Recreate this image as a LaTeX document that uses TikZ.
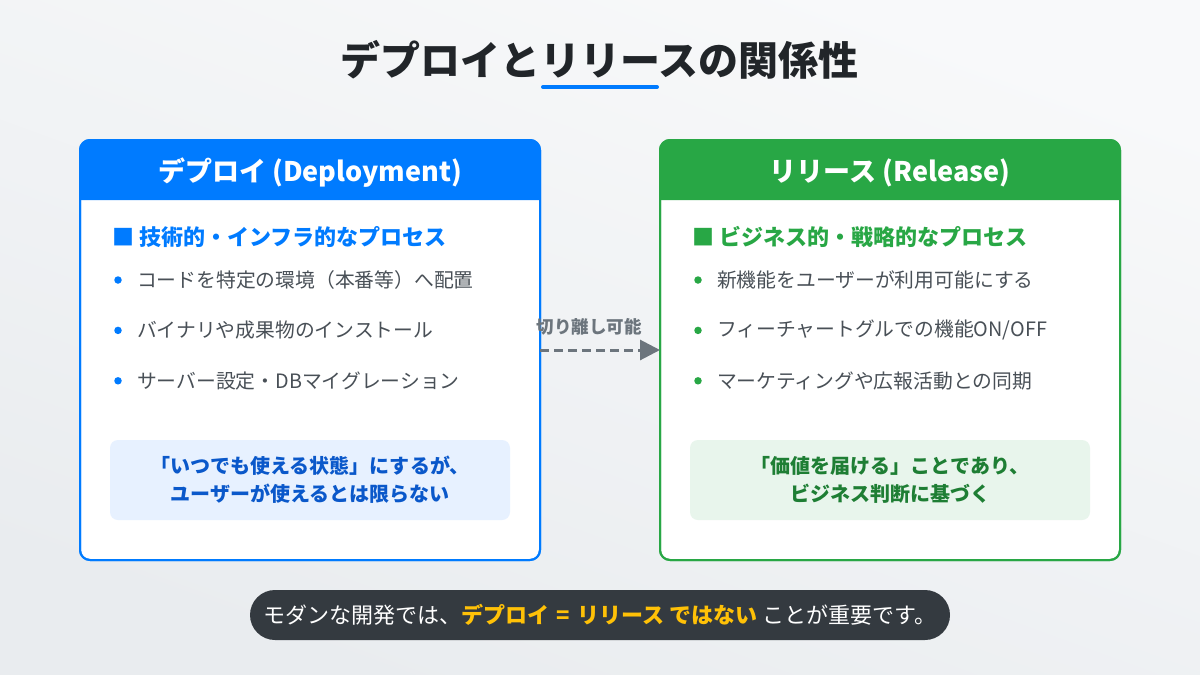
\documentclass[tikz,border=0pt]{standalone}
\usepackage{fontspec}
\setmainfont{Noto Sans CJK JP}
\usepackage{tikz}
\usetikzlibrary{positioning, arrows.meta, calc}
\definecolor{bgTop}{HTML}{f8f9fa}
\definecolor{bgBot}{HTML}{e9ecef}
\definecolor{ink}{HTML}{212529}
\definecolor{bodyTxt}{HTML}{495057}
\definecolor{depBlue}{HTML}{007bff}
\definecolor{depNote}{HTML}{e7f1ff}
\definecolor{depNoteT}{HTML}{0a58ca}
\definecolor{relGreen}{HTML}{28a745}
\definecolor{relNote}{HTML}{e8f5ec}
\definecolor{relNoteT}{HTML}{1e7e34}
\definecolor{linkGray}{HTML}{6c757d}
\definecolor{pillDark}{HTML}{343a40}
\definecolor{hiYellow}{HTML}{ffc107}

\begin{document}
\begin{tikzpicture}[x=1pt,y=-1pt,card/.style={draw, fill=white, line width=2pt, rounded corners=10pt, minimum width=460pt, minimum height=420pt, outer sep=0pt},hdr/.style={font=\fontsize{27}{30}\selectfont\bfseries, text=white},subttl/.style={font=\fontsize{22}{24}\selectfont\bfseries, anchor=west, inner sep=0pt},item/.style={font=\fontsize{19.8}{22}\selectfont, text=bodyTxt, anchor=west, inner sep=0pt},dot/.style={circle, inner sep=0pt, minimum size=7.5pt},note/.style={rounded corners=8pt, minimum width=400pt, minimum height=80pt, align=center, font=\fontsize{20}{28}\selectfont\bfseries},link/.style={draw=linkGray, line width=3pt, dash pattern=on 9pt off 5pt, -{Triangle[length=20pt, width=20pt, sep=0pt]}},lbl/.style={font=\fontsize{17.5}{19}\selectfont\bfseries, text=linkGray}]
\useasboundingbox (0,0) rectangle (1200,675);
\shade[top color=bgTop, bottom color=bgBot, shading angle=-20] (0,0) rectangle (1200,675);
\node[font=\fontsize{40}{44}\selectfont\bfseries, text=ink] (ttl) at (599,60) {デプロイとリリースの関係性};
\draw[depBlue, line width=4pt, line cap=round] (543,87) -- (657,87);
\node[card, draw=depBlue] (dep) at (310,350) {};
\node[card, draw=relGreen] (rel) at (890,350) {};
\fill[depBlue] ($(dep.north west)+(0,60)$) [rounded corners=10pt] -- (dep.north west) -- (dep.north east) [sharp corners] -- ($(dep.north east)+(0,60)$) -- cycle;
\fill[relGreen] ($(rel.north west)+(0,60)$) [rounded corners=10pt] -- (rel.north west) -- (rel.north east) [sharp corners] -- ($(rel.north east)+(0,60)$) -- cycle;
\draw[depBlue, line width=2pt, rounded corners=10pt] (dep.north west) rectangle (dep.south east);
\draw[relGreen, line width=2pt, rounded corners=10pt] (rel.north west) rectangle (rel.south east);
\node[hdr] (depH) at ($(dep.north)+(0,33)$) {デプロイ (Deployment)};
\node[hdr] (relH) at ($(rel.north)+(0,33)$) {リリース (Release)};
\node[subttl, text=depBlue] (depS) at ($(dep.north west)+(32,97)$) {■ 技術的・インフラ的なプロセス};
\node[subttl, text=relGreen] (relS) at ($(rel.north west)+(32,97)$) {■ ビジネス的・戦略的なプロセス};
\node[dot, fill=depBlue] (dd1) at (118,280) {};
\node[item, right=15pt of dd1] (d1) {コードを特定の環境（本番等）へ配置};
\node[dot, fill=depBlue, below=42.5pt of dd1] (dd2) {};
\node[item, right=15pt of dd2] (d2) {バイナリや成果物のインストール};
\node[dot, fill=depBlue, below=42.5pt of dd2] (dd3) {};
\node[item, right=15pt of dd3] (d3) {サーバー設定・DBマイグレーション};
\node[dot, fill=relGreen] (rd1) at (698,280) {};
\node[item, right=15pt of rd1] (r1) {新機能をユーザーが利用可能にする};
\node[dot, fill=relGreen, below=42.5pt of rd1] (rd2) {};
\node[item, right=15pt of rd2] (r2) {フィーチャートグルでの機能ON/OFF};
\node[dot, fill=relGreen, below=42.5pt of rd2] (rd3) {};
\node[item, right=15pt of rd3] (r3) {マーケティングや広報活動との同期};
\node[note, fill=depNote, text=depNoteT] (depN) at (310,480) {「いつでも使える状態」にするが、\\ユーザーが使えるとは限らない};
\node[note, fill=relNote, text=relNoteT] (relN) at (890,480) {「価値を届ける」ことであり、\\ビジネス判断に基づく};
\draw[link] (dep.east) -- (rel.west) node[lbl, midway, above=10pt, xshift=-11pt] (cut) {切り離し可能};
\node[fill=pillDark, text=white, rounded corners=25pt, minimum width=700pt, minimum height=50pt, font=\fontsize{22}{24}\selectfont] (msg) at (600,615) {モダンな開発では、\textcolor{hiYellow}{\bfseries デプロイ\,\,=\,\,リリース ではない} ことが重要です。};
\end{tikzpicture}
\end{document}
